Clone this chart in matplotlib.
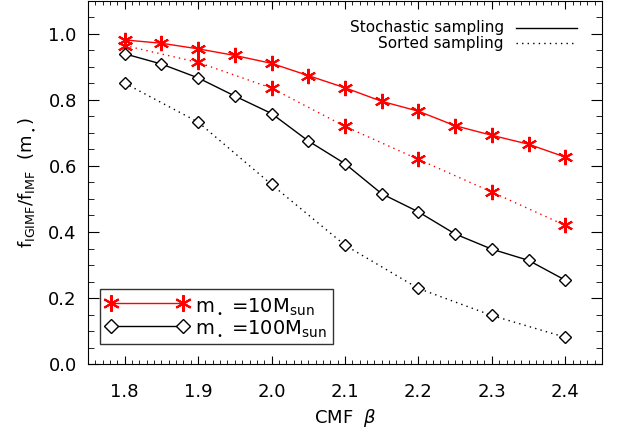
import matplotlib
matplotlib.use('Agg')
import matplotlib.pyplot as plt
from matplotlib.lines import Line2D
from matplotlib.ticker import MultipleLocator

plt.rcParams['font.family'] = 'DejaVu Sans'
plt.rcParams['mathtext.fontset'] = 'dejavusans'

# CMF slope beta
beta_fine = [1.80, 1.85, 1.90, 1.95, 2.00, 2.05, 2.10, 2.15, 2.20, 2.25, 2.30, 2.35, 2.40]
beta_coarse = [1.8, 1.9, 2.0, 2.1, 2.2, 2.3, 2.4]

# m* = 10 Msun
stoch_10 = [0.982, 0.972, 0.955, 0.935, 0.911, 0.874, 0.837, 0.796, 0.766, 0.722, 0.693, 0.666, 0.627]
sorted_10 = [0.965, 0.914, 0.836, 0.720, 0.620, 0.521, 0.420]

# m* = 100 Msun
stoch_100 = [0.940, 0.909, 0.867, 0.812, 0.759, 0.676, 0.607, 0.516, 0.461, 0.394, 0.348, 0.314, 0.254]
sorted_100 = [0.851, 0.733, 0.544, 0.360, 0.229, 0.147, 0.081]

xticks = [1.8, 1.9, 2.0, 2.1, 2.2, 2.3, 2.4]
yticks = [0.0, 0.2, 0.4, 0.6, 0.8, 1.0]

red = '#ff0000'
ast = (6, 2, 0)

fig = plt.figure(figsize=(6.32, 4.32), dpi=100)
ax = fig.add_axes([0.1392, 0.1574, 0.8133, 0.8403])

ax.plot(beta_fine, stoch_10, color=red, lw=1, marker=ast, ms=11, mew=1.5)
ax.plot(beta_coarse, sorted_10, color=red, lw=1, ls=(0, (1, 3)), marker=ast, ms=11, mew=1.5)
ax.plot(beta_fine, stoch_100, color='black', lw=1, marker='D', ms=6, mfc='white', mew=1)
ax.plot(beta_coarse, sorted_100, color='black', lw=1, ls=(0, (1, 3)), marker='D', ms=6, mfc='white', mew=1)

ax.set_xlim(1.75, 2.45)
ax.set_ylim(0.0, 1.1)
ax.set_xticks(xticks)
ax.set_xticklabels(['%.1f' % v for v in xticks])
ax.set_yticks(yticks)
ax.set_yticklabels(['%.1f' % v for v in yticks])
ax.xaxis.set_minor_locator(MultipleLocator(0.01))
ax.yaxis.set_minor_locator(MultipleLocator(0.05))
ax.tick_params(axis='both', which='both', direction='in', top=True, right=True, labelsize=13)
ax.tick_params(axis='x', which='major', length=6, pad=14)
ax.tick_params(axis='x', which='minor', length=3)
ax.tick_params(axis='y', which='major', length=8, pad=8)
ax.tick_params(axis='y', which='minor', length=4)

ax.set_xlabel(r'CMF  $\beta$', fontsize=13, labelpad=4)
ax.set_ylabel(r'f$_{\rm IGIMF}$/f$_{\rm IMF}$  (m$_{_\bullet}$)', fontsize=13, labelpad=8)

# line-style key, top right
ax.text(0.809, 0.926, 'Stochastic sampling', transform=ax.transAxes, ha='right', va='center', fontsize=11)
ax.text(0.809, 0.884, 'Sorted sampling', transform=ax.transAxes, ha='right', va='center', fontsize=11)
ax.plot([0.833, 0.951], [0.926, 0.926], transform=ax.transAxes, color='black', lw=1)
ax.plot([0.833, 0.951], [0.884, 0.884], transform=ax.transAxes, color='black', lw=1, ls=(0, (1, 3)))

handles = [
    Line2D([0], [0], color=red, lw=1, marker=ast, ms=12, mew=1.5),
    Line2D([0], [0], color='black', lw=1, marker='D', ms=7, mfc='white', mew=1),
]
labels = [r'm$_{_\bullet}$ =10M$_{\rm sun}$', r'm$_{_\bullet}$ =100M$_{\rm sun}$']
leg = ax.legend(handles, labels, loc='lower left', bbox_to_anchor=(0.023, 0.055), numpoints=2,
                handlelength=4.3, handletextpad=0.3, fontsize=14, frameon=True, fancybox=False,
                edgecolor='black', borderpad=0.3, labelspacing=0.1, borderaxespad=0)
leg.get_frame().set_linewidth(1)

fig.savefig('out.png', dpi=100)
